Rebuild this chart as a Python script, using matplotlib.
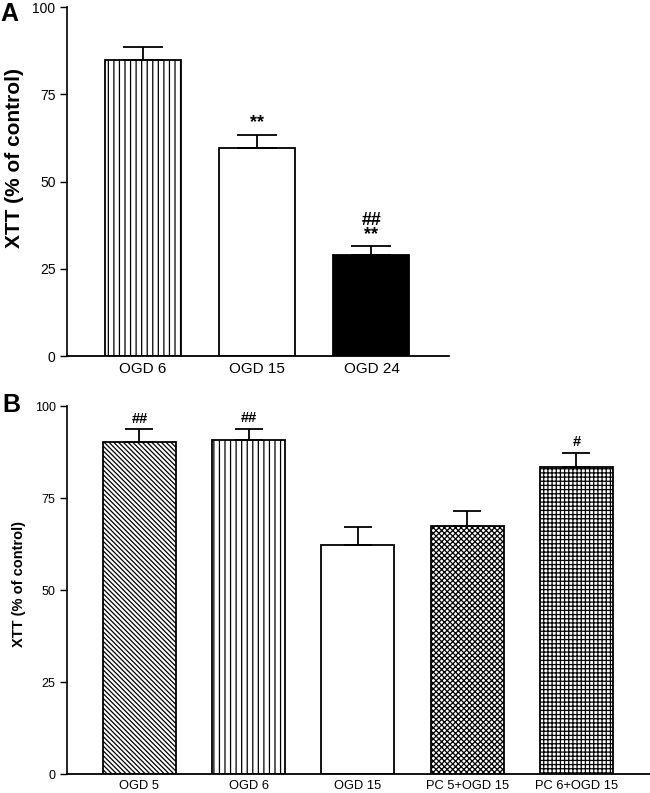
import matplotlib
matplotlib.use("Agg")
import matplotlib.pyplot as plt
import numpy as np

plt.rcParams["font.family"] = ["Liberation Sans", "DejaVu Sans"]
plt.rcParams["hatch.linewidth"] = 0.9

# panel A
catA = ["OGD 6", "OGD 15", "OGD 24"]
valA = [84.8, 59.6, 28.9]
errA = [3.8, 3.8, 2.5]
markA = ["", "**", "##\n**"]

# panel B
catB = ["OGD 5", "OGD 6", "OGD 15", "PC 5+OGD 15", "PC 6+OGD 15"]
valB = [90.1, 90.8, 62.3, 67.5, 83.5]
errB = [3.6, 3.0, 4.8, 3.9, 3.7]
markB = ["##", "##", "", "", "#"]

yticks = [0, 25, 50, 75, 100]

fig = plt.figure(figsize=(6.5, 7.93), dpi=100)
axA = fig.add_axes([0.1026, 0.551, 0.588, 0.440])
axB = fig.add_axes([0.1026, 0.0236, 0.8974, 0.4644])


def panel(ax, cats, vals, errs, marks, hatches, colors, width, capsize,
          tickfs, xfs, yfs, markfs, letter, letterpos, xlim, label_y):
    x = np.arange(len(cats))
    for i in range(len(cats)):
        ax.bar(x[i], vals[i], width=width, color=colors[i], edgecolor="black",
               linewidth=1.3, hatch=hatches[i], zorder=2)
        ax.errorbar(x[i], vals[i], yerr=[[0], [errs[i]]], fmt="none",
                    ecolor="black", elinewidth=1.3, capsize=capsize,
                    capthick=1.3, zorder=3)
        if marks[i]:
            ax.text(x[i], vals[i] + errs[i] + 1.0, marks[i], ha="center",
                    va="bottom", fontsize=markfs, fontweight="bold",
                    linespacing=0.75)
    ax.set_xlim(xlim)
    ax.set_ylim(0, 100)
    ax.set_yticks(yticks)
    ax.set_xticks(x)
    ax.set_xticklabels(cats, fontsize=xfs)
    ax.tick_params(axis="x", length=0, pad=4)
    ax.tick_params(axis="y", direction="out", length=5, width=1,
                   labelsize=tickfs, pad=3)
    ax.spines["top"].set_visible(False)
    ax.spines["right"].set_visible(False)
    ax.spines["left"].set_linewidth(1.2)
    ax.spines["bottom"].set_linewidth(1.3)
    ax.set_ylabel("XTT (% of control)", fontsize=yfs, fontweight="bold",
                  labelpad=6)
    ax.yaxis.label.set_y(label_y)
    fig.text(letterpos[0], letterpos[1], letter, fontsize=18,
             fontweight="bold", ha="left", va="top")


panel(axA, catA, valA, errA, markA,
      ["|||", "", ""], ["white", "white", "black"],
      0.665, 14.5, 10, 11, 15, 13, "A", (0.0, 0.997), (-0.668, 2.678), 0.567)

panel(axB, catB, valB, errB, markB,
      ["\\\\\\\\\\\\\\", "|||", "", "xxxxxx", "++++"],
      ["white"] * 5,
      0.668, 10, 9, 9.3, 10.5, 10.5, "B", (0.003, 0.505), (-0.666, 4.673), 0.516)

fig.savefig("out.png", dpi=100)
